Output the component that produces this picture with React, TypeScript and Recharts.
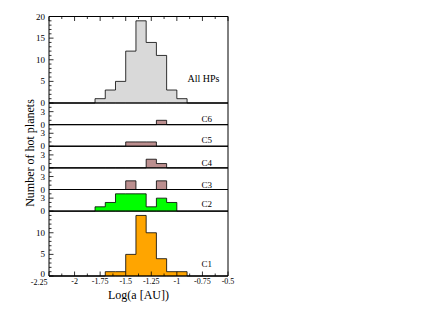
import React from "react";
import {
  ComposedChart, Area, XAxis, YAxis, ReferenceLine,
} from "recharts";

// histogram bins: left edges in log(a), width 0.1
const binEdges = [-1.8, -1.7, -1.6, -1.5, -1.4, -1.3, -1.2, -1.1, -1.0];
const BIN = 0.1;

const allHPs = [1, 3, 5, 12, 19, 14, 11, 3, 1];
const c1 = [0, 1, 1, 5, 14, 10, 4, 1, 1];
const c2 = [1, 2, 4, 4, 4, 1, 3, 2, 0];
const c3 = [0, 0, 0, 2, 0, 0, 2, 0, 0];
const c4 = [0, 0, 0, 0, 0, 2, 1, 0, 0];
const c5 = [0, 0, 0, 1, 1, 1, 0, 0, 0];
const c6 = [0, 0, 0, 0, 0, 0, 1, 0, 0];

// panels from bottom to top
const panelKeys = ["c1", "c2", "c3", "c4", "c5", "c6", "all"];
const panelNames = ["C1", "C2", "C3", "C4", "C5", "C6", "All HPs"];
const panelMax = [15, 5, 5, 5, 5, 5, 20];
const panelMajor = [5, 3, 3, 3, 3, 3, 5];
const panelFill = ["#ffa500", "#00ff00", "#bc8f8f", "#bc8f8f", "#bc8f8f", "#bc8f8f", "#d9d9d9"];
const panelSeries = [c1, c2, c3, c4, c5, c6, allHPs];

const xTickLabels = [-2.25, -2, -1.75, -1.5, -1.25, -1, -0.75, -0.5];
const X_MIN = -2.25;
const X_MAX = -0.5;

const FONT = "'Liberation Serif', 'Times New Roman', serif";

const offsets: number[] = [];
panelMax.reduce((acc, m, i) => { offsets[i] = acc; return acc + m; }, 0);
const Y_TOTAL = panelMax.reduce((a, b) => a + b, 0);

// step data, with zero rows at the domain ends and after the last bin
const data = [
  { x: X_MIN, ...Object.fromEntries(panelKeys.map(k => [k, 0])) },
  ...binEdges.map((e, i) => ({
    x: e,
    ...Object.fromEntries(panelKeys.map((k, p) => [k, panelSeries[p][i]])),
  })),
  { x: binEdges[binEdges.length - 1] + BIN, ...Object.fromEntries(panelKeys.map(k => [k, 0])) },
  { x: X_MAX, ...Object.fromEntries(panelKeys.map(k => [k, 0])) },
];

// y ticks: every unit, major ones labelled relative to their own panel
type YT = { label: string; major: boolean };
const yInfo = new Map<number, YT>();
panelMax.forEach((m, p) => {
  const top = p === panelMax.length - 1 ? m : m - 1;
  for (let k = 0; k <= top; k++) {
    const major = k % panelMajor[p] === 0;
    yInfo.set(offsets[p] + k, { label: major ? String(k) : "", major });
  }
});
const yTicks = Array.from(yInfo.keys());

const xTicks: number[] = [];
xTickLabels.forEach((v, i) => {
  xTicks.push(v);
  if (i < xTickLabels.length - 1) xTicks.push((v + xTickLabels[i + 1]) / 2);
});
const isMajorX = (v: number) => xTickLabels.includes(v);

const M = 4;

function YTick(props: any) {
  const { x, y, payload, side } = props;
  const info = yInfo.get(payload.value);
  if (!info) return null;
  const edge = side === "left" ? x + M : x - M;
  const dir = side === "left" ? 1 : -1;
  const len = info.major ? 4.5 : 2.5;
  // lowest "0" sits a little higher, above the x labels
  const lift = payload.value === 0 ? -2.5 : 0;
  return (
    <g>
      <line x1={edge} x2={edge + dir * len} y1={y} y2={y} stroke="#000" strokeWidth={0.8} />
      {side === "left" && info.label && (
        <text x={x} y={y + lift} dy="0.34em" textAnchor="end" fontSize={9} fontFamily={FONT} fill="#000">
          {info.label}
        </text>
      )}
    </g>
  );
}

function XTick(props: any) {
  const { x, y, payload, side } = props;
  const major = isMajorX(payload.value);
  const edge = side === "bottom" ? y - 2 : y + 2;
  const dir = side === "bottom" ? -1 : 1;
  const len = major ? 4.5 : 2.5;
  // the first label is pushed left, clear of the panel's "0"
  const first = payload.value === X_MIN;
  return (
    <g>
      <line x1={x} x2={x} y1={edge} y2={edge + dir * len} stroke="#000" strokeWidth={0.8} />
      {side === "bottom" && major && (
        <text x={first ? x - 1.5 : x} y={y + (first ? 1 : 0)} dy="0.71em" textAnchor={first ? "end" : "middle"}
          fontSize={8} fontFamily={FONT} fill="#000">
          {String(payload.value)}
        </text>
      )}
    </g>
  );
}

export default function App() {
  return (
    <div style={{ position: "absolute", left: 0, top: 0, width: 430, height: 332, background: "#fff" }}>
      <ComposedChart
        width={430}
        height={332}
        data={data}
        margin={{ top: 15.5, right: 201, bottom: 26, left: 0 }}
      >
        <XAxis
          dataKey="x" type="number" domain={[X_MIN, X_MAX]} ticks={xTicks} interval={0}
          height={30} tickSize={0} tickMargin={2} tickLine={false}
          axisLine={{ stroke: "#000" }}
          tick={<XTick side="bottom" />}
        />
        <XAxis
          xAxisId="top" orientation="top" dataKey="x" type="number" domain={[X_MIN, X_MAX]}
          ticks={xTicks} interval={0} height={1} tickSize={0} tickMargin={2} tickLine={false}
          axisLine={{ stroke: "#000" }}
          tick={<XTick side="top" />}
        />
        <YAxis
          type="number" domain={[0, Y_TOTAL]} ticks={yTicks} interval={0} width={49}
          tickSize={0} tickMargin={M} tickLine={false} axisLine={{ stroke: "#000" }}
          tick={<YTick side="left" />}
        />
        <YAxis
          yAxisId="r" orientation="right" type="number" domain={[0, Y_TOTAL]} ticks={yTicks}
          interval={0} width={1} tickSize={0} tickMargin={M} tickLine={false}
          axisLine={{ stroke: "#000" }}
          tick={<YTick side="right" />}
        />
        {panelKeys.map((k, p) => (
          <Area
            key={k}
            dataKey={(d: any) => [offsets[p], offsets[p] + d[k]]}
            type="stepAfter"
            fill={panelFill[p]}
            fillOpacity={1}
            stroke="#000"
            strokeWidth={0.8}
            isAnimationActive={false}
            dot={false}
            activeDot={false}
          />
        ))}
        {offsets.slice(1).map(o => (
          <ReferenceLine key={o} y={o} stroke="#000" strokeWidth={1} ifOverflow="extendDomain" />
        ))}
      </ComposedChart>
      <svg width={430} height={332} style={{ position: "absolute", left: 0, top: 0, pointerEvents: "none" }}>
        <g fontFamily={FONT} fill="#000">
          <text x={30} y={153} fontSize={12} textAnchor="middle" dominantBaseline="central"
            transform="rotate(-90 30 153)">Number of hot planets</text>
          <text x={138.5} y={295} fontSize={12} textAnchor="middle" dominantBaseline="central">Log(a [AU])</text>
          <text x={219.5} y={78.3} fontSize={10} textAnchor="end" dominantBaseline="central">{panelNames[6]}</text>
          <text x={212} y={119.3} fontSize={9} textAnchor="end" dominantBaseline="central">{panelNames[5]}</text>
          <text x={212} y={140} fontSize={9} textAnchor="end" dominantBaseline="central">{panelNames[4]}</text>
          <text x={212} y={162.7} fontSize={9} textAnchor="end" dominantBaseline="central">{panelNames[3]}</text>
          <text x={212} y={185} fontSize={9} textAnchor="end" dominantBaseline="central">{panelNames[2]}</text>
          <text x={212} y={204.3} fontSize={9} textAnchor="end" dominantBaseline="central">{panelNames[1]}</text>
          <text x={212} y={264.3} fontSize={9} textAnchor="end" dominantBaseline="central">{panelNames[0]}</text>
        </g>
      </svg>
    </div>
  );
}
